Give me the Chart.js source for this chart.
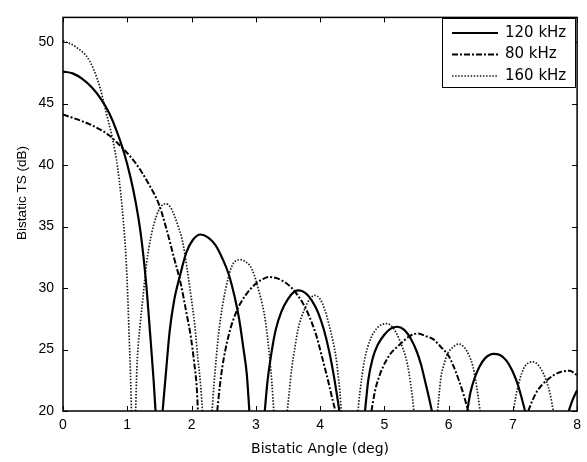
<!DOCTYPE html>
<html>
<head>
<meta charset="utf-8">
<script src="https://cdn.jsdelivr.net/npm/chart.js@4.4.1/dist/chart.umd.min.js"></script>
<style>
  html, body { margin: 0; padding: 0; background: #fff; }
  #wrap { width: 587px; height: 462px; }
</style>
</head>
<body>
<div id="wrap"><canvas id="tsChart" width="587" height="462"></canvas></div>
<script>
// values, one lobe after another; a null TS breaks the line at a null
const angle120 = [0, 0.15, 0.3, 0.45, 0.6, 0.72, 0.84, 0.95, 1.05, 1.13, 1.21, 1.29, 1.36, 1.41, 1.44,
  1.5,
  1.55, 1.6, 1.66, 1.73, 1.82, 1.92, 2.02, 2.14, 2.26, 2.37, 2.48, 2.58, 2.67, 2.74, 2.81, 2.86, 2.9,
  3.0,
  3.14, 3.18, 3.24, 3.31, 3.4, 3.5, 3.6, 3.67, 3.77, 3.87, 3.97, 4.06, 4.14, 4.21, 4.26, 4.3,
  4.5,
  4.7, 4.75, 4.82, 4.9, 5.0, 5.1, 5.2, 5.31, 5.41, 5.5, 5.57, 5.64, 5.69, 5.74,
  6.0,
  6.29, 6.34, 6.4, 6.48, 6.57, 6.7, 6.8, 6.9, 6.99, 7.06, 7.13, 7.19,
  7.5,
  7.87, 7.93, 8.0];
const ts120 = [47.6, 47.45, 47.0, 46.3, 45.3, 44.2, 42.7, 41.0, 39.0, 37.0, 34.4, 30.6, 26.0, 22.5, 20,
  null,
  20, 23.0, 26.5, 29.0, 31.0, 32.9, 33.9, 34.35, 34.1, 33.5, 32.4, 31.1, 29.3, 27.5, 25.0, 23.0, 20,
  null,
  20, 22.3, 24.6, 26.6, 28.1, 29.1, 29.7, 29.8, 29.6, 29.0, 28.0, 26.6, 24.9, 23.0, 21.4, 20,
  null,
  20, 22.5, 24.3, 25.4, 26.2, 26.7, 26.85, 26.6, 25.9, 24.9, 23.8, 22.3, 21.2, 20,
  null,
  20, 21.5, 22.6, 23.6, 24.3, 24.65, 24.55, 24.1, 23.3, 22.4, 21.2, 20,
  null,
  20, 20.9, 21.7];

const angle80 = [0, 0.2, 0.46, 0.72, 0.93, 1.13, 1.34, 1.5, 1.62, 1.72, 1.83, 1.92, 1.99, 2.04, 2.08, 2.1,
  2.25,
  2.4, 2.44, 2.48, 2.58, 2.7, 2.84, 2.99, 3.1, 3.2, 3.32, 3.46, 3.56, 3.66, 3.77, 3.87, 3.95, 4.02, 4.09, 4.15, 4.2, 4.24,
  4.5,
  4.8, 4.85, 4.9, 5.05, 5.26, 5.4, 5.52, 5.64, 5.77, 5.88, 6.0, 6.08, 6.16, 6.23, 6.29, 6.31,
  6.8,
  7.24, 7.3, 7.37, 7.45, 7.53, 7.63, 7.73, 7.82, 7.89, 7.95, 8.0];
const ts80 = [44.1, 43.75, 43.2, 42.4, 41.35, 40.15, 38.4, 36.7, 34.6, 32.6, 30.4, 28.0, 26.0, 24.0, 22.0, 20,
  null,
  20, 22.0, 23.6, 26.2, 28.1, 29.4, 30.3, 30.7, 30.9, 30.8, 30.45, 30.0, 29.35, 28.4, 27.2, 26.0, 24.6, 23.2, 21.9, 20.8, 20,
  null,
  20, 21.5, 22.5, 24.3, 25.5, 26.1, 26.3, 26.1, 25.8, 25.2, 24.5, 23.6, 22.5, 21.4, 20.3, 20,
  null,
  20, 20.8, 21.55, 22.1, 22.5, 22.9, 23.15, 23.25, 23.27, 23.1, 22.9];

const angle160 = [0, 0.2, 0.41, 0.57, 0.67, 0.77, 0.85, 0.9, 0.94, 0.98, 1.01, 1.03, 1.05, 1.065,
  1.1,
  1.13, 1.15, 1.2, 1.24, 1.3, 1.37, 1.45, 1.52, 1.6, 1.68, 1.78, 1.86, 1.93, 1.99, 2.05, 2.1, 2.14, 2.17,
  2.25,
  2.32, 2.35, 2.42, 2.48, 2.53, 2.63, 2.76, 2.85, 2.91, 2.98, 3.04, 3.1, 3.15, 3.22, 3.25, 3.28,
  3.4,
  3.49, 3.52, 3.56, 3.61, 3.66, 3.76, 3.84, 3.92, 4.0, 4.07, 4.14, 4.2, 4.25, 4.28, 4.31, 4.33,
  4.45,
  4.59, 4.62, 4.69, 4.79, 4.88, 4.95, 5.05, 5.13, 5.2, 5.28, 5.36, 5.41, 5.44, 5.46,
  5.6,
  5.83, 5.85, 5.88, 5.93, 5.98, 6.07, 6.16, 6.24, 6.32, 6.38, 6.42, 6.46, 6.49,
  6.7,
  7.01, 7.04, 7.09, 7.14, 7.19, 7.26, 7.32, 7.4, 7.48, 7.53, 7.58, 7.63];
const ts160 = [50.1, 49.6, 48.5, 46.4, 44.3, 42.15, 39.8, 37.6, 35.4, 32.5, 29.0, 26.0, 23.0, 20,
  null,
  20, 23.5, 27.0, 29.0, 32.0, 34.2, 35.8, 36.6, 36.85, 36.5, 35.2, 33.8, 31.6, 29.4, 27.0, 24.2, 22.2, 20,
  null,
  20, 22.2, 26.2, 28.5, 29.9, 31.8, 32.3, 32.1, 31.8, 31.0, 29.9, 28.7, 27.3, 24.1, 22.3, 20,
  null,
  20, 21.5, 23.5, 25.2, 26.7, 28.3, 29.1, 29.4, 29.1, 28.3, 27.0, 25.7, 24.3, 23.0, 21.5, 20,
  null,
  20, 21.5, 24.1, 25.9, 26.7, 27.0, 27.1, 26.8, 26.2, 25.2, 23.8, 22.2, 21.0, 20,
  null,
  20, 21.2, 22.7, 23.8, 24.6, 25.2, 25.45, 25.2, 24.5, 23.6, 22.5, 21.2, 20,
  null,
  20, 21.0, 22.2, 23.1, 23.65, 23.95, 24.0, 23.7, 23.0, 22.3, 21.4, 20];

const seriesLabels = ["120 kHz", "80 kHz", "160 kHz"];
const xTicks = [0, 1, 2, 3, 4, 5, 6, 7, 8];
const yTicks = [20, 25, 30, 35, 40, 45, 50];
const yTitle = "Bistatic TS (dB)";

const toPoints = (xs, ys) => xs.map((x, i) => ({ x: x, y: ys[i] }));

// box round the plot, inward ticks on all four sides, y title, legend in the top right corner
const framePlugin = {
  id: "frame",
  afterDraw(chart) {
    const ctx = chart.ctx;
    const area = chart.chartArea;
    const xs = chart.scales.x;
    const ys = chart.scales.y;
    ctx.save();
    ctx.strokeStyle = "#000";
    ctx.lineWidth = 1.5;
    ctx.setLineDash([]);
    ctx.strokeRect(area.left, area.top, area.right - area.left, area.bottom - area.top);
    ctx.lineWidth = 1;
    ctx.beginPath();
    xTicks.forEach((v) => {
      const px = Math.round(xs.getPixelForValue(v)) + 0.5;
      ctx.moveTo(px, area.bottom); ctx.lineTo(px, area.bottom - 5);
      ctx.moveTo(px, area.top); ctx.lineTo(px, area.top + 5);
    });
    yTicks.forEach((v) => {
      const py = Math.round(ys.getPixelForValue(v)) + 0.5;
      ctx.moveTo(area.left, py); ctx.lineTo(area.left + 5, py);
      ctx.moveTo(area.right, py); ctx.lineTo(area.right - 5, py);
    });
    ctx.stroke();

    // y title, sits a little above the middle of the axis as in the original
    ctx.save();
    ctx.translate(22, 193);
    ctx.rotate(-Math.PI / 2);
    ctx.font = "13.5px 'Liberation Sans', Arial, sans-serif";
    ctx.fillStyle = "#000";
    ctx.textAlign = "center";
    ctx.textBaseline = "middle";
    ctx.fillText(yTitle, 0, 0);
    ctx.restore();

    // legend
    const bx = 442, by = 18, bw = 133, bh = 69;
    ctx.fillStyle = "#fff";
    ctx.fillRect(bx, by, bw, bh);
    ctx.lineWidth = 1;
    ctx.strokeRect(bx + 0.5, by + 0.5, bw, bh);
    ctx.font = "15px 'DejaVu Sans', sans-serif";
    ctx.textBaseline = "middle";
    ctx.textAlign = "left";
    chart.data.datasets.forEach((ds, i) => {
      const y = by + 15 + i * 21.5;
      ctx.beginPath();
      ctx.strokeStyle = ds.borderColor;
      ctx.lineWidth = ds.borderWidth;
      ctx.setLineDash(ds.borderDash || []);
      ctx.moveTo(bx + 10, y);
      ctx.lineTo(bx + 56, y);
      ctx.stroke();
      ctx.fillStyle = "#000";
      ctx.fillText(ds.label, bx + 63, y);
    });
    ctx.restore();
  }
};

const tickFont = { family: "'Liberation Sans', Arial, sans-serif", size: 14 };
const titleFont = { family: "'DejaVu Sans', sans-serif", size: 14 };

new Chart(document.getElementById("tsChart"), {
  type: "line",
  data: {
    datasets: [
      {
        label: seriesLabels[0],
        data: toPoints(angle120, ts120),
        borderColor: "#000",
        borderWidth: 2.2,
        borderDash: []
      },
      {
        label: seriesLabels[1],
        data: toPoints(angle80, ts80),
        borderColor: "#000",
        borderWidth: 2,
        borderDash: [6, 2, 2, 2]
      },
      {
        label: seriesLabels[2],
        data: toPoints(angle160, ts160),
        borderColor: "#1a1a1a",
        borderWidth: 1.7,
        borderDash: [1.5, 1.6]
      }
    ]
  },
  options: {
    responsive: false,
    animation: false,
    devicePixelRatio: 1,
    spanGaps: false,
    elements: {
      point: { radius: 0, hoverRadius: 0 },
      line: { cubicInterpolationMode: "monotone", fill: false }
    },
    layout: { padding: { top: 9, right: 6, left: 0, bottom: 0 } },
    plugins: {
      legend: { display: false },
      tooltip: { enabled: false }
    },
    scales: {
      x: {
        type: "linear",
        min: 0,
        max: 8,
        grid: { display: false, drawTicks: false },
        border: { display: false },
        afterBuildTicks: (s) => { s.ticks = xTicks.map((v) => ({ value: v })); },
        afterFit: (s) => { s.height = 51; },
        ticks: { color: "#000", font: tickFont, padding: 6, maxRotation: 0, autoSkip: false },
        title: {
          display: true,
          text: "Bistatic Angle (deg)",
          color: "#000",
          font: titleFont,
          padding: { top: 0, bottom: 4 }
        }
      },
      y: {
        type: "linear",
        min: 20,
        max: 52,
        grid: { display: false, drawTicks: false },
        border: { display: false },
        afterBuildTicks: (s) => { s.ticks = yTicks.map((v) => ({ value: v })); },
        afterFit: (s) => { s.width = 63; },
        ticks: { color: "#000", font: tickFont, padding: 9 }
      }
    }
  },
  plugins: [framePlugin]
});
</script>
</body>
</html>
